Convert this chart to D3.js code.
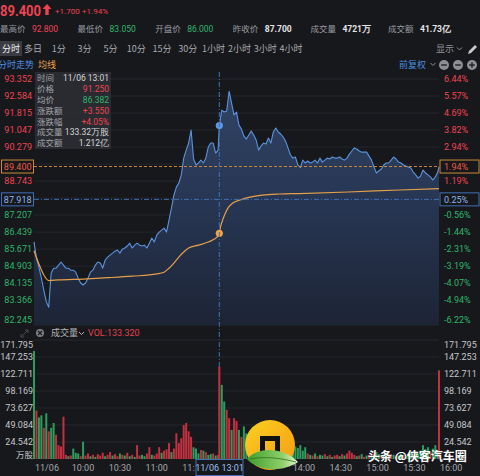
<!DOCTYPE html>
<html><head><meta charset="utf-8">
<script src="https://cdn.jsdelivr.net/npm/d3@7/dist/d3.min.js"></script>
<style>html,body{margin:0;padding:0;background:#17181c;overflow:hidden}svg{display:block}</style>
</head><body><svg id="chart" width="480" height="476"></svg>
<script>
// ---------------- data ----------------
const prevClose = 87.700;
const lastPrice = 89.400;
const changeAbs = "+1.700";
const changePct = "+1.94%";
const statLabels = ["最高价","最低价","开盘价","昨收价","成交量","成交额"];
const statValues = ["92.800","83.050","86.000","87.700","4721万","41.73亿"];
const tabs = ["分时","多日","1分","3分","5分","10分","15分","30分","1小时","2小时","3小时","4小时"];

// grid levels; labels that are hidden behind the tag boxes are null
const priceTicks = [93.352,92.584,91.815,91.047,90.279,89.511,88.743,87.975,87.207,86.439,85.671,84.903,84.135,83.366,82.245];
const priceTickLabels = ["93.352","92.584","91.815","91.047","90.279",null,"88.743",null,"87.207","86.439","85.671","84.903","84.135","83.366","82.245"];
const pctTicks = ["6.44%","5.57%","4.69%","3.82%","2.94%",null,"1.19%",null,"-0.56%","-1.44%","-2.31%","-3.19%","-4.07%","-4.94%","-6.22%"];
const volTicks = [171.795,147.253,122.711,98.169,73.627,49.084,24.542];
const timeLabels = ["11/06","10:00","10:30","11:00","11:30","14:00","14:30","15:00","15:30","16:00"];
const timeMinutes = [0,30,60,90,120,210,240,270,300,330]; // minutes since 09:30 (lunch removed)

// minute grids: morning every 2 min, afternoon from 13:01 every 2 min + 16:00
const amMinutes = d3.range(0, 151, 2);
const pmMinutes = d3.range(151, 330, 2).concat([330]);

const priceAM = [
 86.00,85.27,84.86,84.36,83.82,83.30,83.05,84.59,84.81,84.81,
 84.95,85.09,84.95,84.81,84.81,84.72,84.72,84.63,84.36,84.14,
 84.05,84.14,84.36,84.63,84.72,84.95,85.09,85.04,84.81,85.18,
 85.31,85.40,85.49,85.58,85.63,85.49,85.67,85.72,85.81,85.94,
 85.72,85.85,85.94,85.85,85.81,85.85,85.72,85.94,86.17,85.99,
 86.30,86.44,86.53,86.62,86.44,86.98,87.52,88.11,88.47,88.65,
 89.02,89.78,90.14,90.46,91.05,89.75,89.47,89.56,89.69,89.56,
 89.78,90.28,90.46,90.46,90.01,90.14];
const pricePM = [
 91.25,91.95,91.86,91.91,92.80,92.25,91.73,91.86,91.27,91.09,
 90.78,90.64,90.82,91.00,90.82,90.60,90.14,90.33,90.46,90.42,
 90.69,90.46,90.96,91.14,90.96,90.87,90.73,90.55,90.23,89.92,
 89.78,89.83,89.47,89.35,89.69,89.56,89.65,89.56,89.60,89.69,
 89.56,89.78,89.60,89.69,89.78,89.74,89.83,89.78,89.78,89.83,
 89.74,89.69,89.78,89.96,90.10,90.24,90.19,90.10,90.05,90.05,
 90.05,89.87,89.69,89.38,89.11,89.20,89.29,89.47,89.56,89.56,
 89.69,89.83,89.74,89.60,89.56,89.47,89.42,89.38,89.33,89.15,
 89.02,88.88,88.97,89.24,89.11,89.02,88.93,88.79,88.93,89.15,
 89.40];

const avgMinutes = [0,4,8,12,20,40,60,80,100,106,110,114,118,122,126,134,142,150,151,152,154,156,158,162,168,176,186,200,216,256,298,330];
const avgValues  = [85.60,85.00,84.50,84.25,84.28,84.32,84.38,84.45,84.55,84.63,84.81,85.04,85.31,85.54,85.72,85.85,85.99,86.26,86.382,86.67,87.03,87.30,87.52,87.75,87.89,88.02,88.11,88.16,88.18,88.25,88.34,88.40];

// volume (万股) and direction (r = up, g = down)
const volAM = [
 156,70,60,63,45,66,40,45,52,35,
 20,18,61,6,4,5,15,9,8,4,
 25,5,8,4,6,3,7,5,9,4,
 6,10,5,7,4,8,6,5,9,4,
 6,3,20,5,6,4,8,17,6,5,
 8,17,9,12,14,23,10,15,37,23,
 30,49,52,40,32,17,15,8,13,12,
 10,6,7,8,5,6];
const dirAM = "grggrgrggr"+"rrrrgrgggr"+"grrgrgrrrg"+"rrgrrgrgrg"+"rgrrggrrgr"+"rrgrrrgrrr"+"rrrrrgggrg"+"rggrgr";
const volPM = [
 133.32,107,83,71,59,42,59,55,42,32,
 47,37,28,23,15,12,18,10,25,12,
 9,14,22,18,10,8,12,7,9,6,
 14,18,16,20,12,17,8,6,5,8,
 4,6,5,7,4,6,3,5,6,4,
 7,5,8,12,9,6,4,5,7,3,
 5,6,4,8,10,7,5,6,4,5,
 7,6,4,5,8,6,5,7,9,6,
 10,8,12,20,14,17,11,15,20,13,
 128];
const dirPM = "rggrrgrrgr"+"ggrgrgrrrg"+"grrrggrggr"+"ggggggrgrg"+"rggrgrgrrg"+"rgrrrrgrgr"+"grgrggrgrg"+"rgrggrgggr"+"ggggggrggg"+"r";

// crosshair / tooltip
const crossMinute = 151;
const crossPrice = 91.25;
const crossAvg = 86.382;
const crossTime = "11/06 13:01";
const tipLabels = ["时间","价格","均价","涨跌额","涨跌幅","成交量","成交额"];
const tipValues = ["11/06 13:01","91.250","86.382","+3.550","+4.05%","133.32万股","1.212亿"];
const hLinePrice = 87.918;
const hLinePct = "0.25%";
const volHeader = "VOL:133.320";

// ---------------- drawing ----------------
const NUM = "Roboto, 'Noto Sans', sans-serif";
const CJK = "'Noto Sans CJK SC', 'Noto Sans', sans-serif";
const RED = "#ee4452", GREEN = "#2fb56b", WHITE = "#e4e4e6", GREY = "#9a9ba0",
      BLUE = "#4a8ee0", ORANGE = "#e9a145", BG = "#17181c";

const svg = d3.select("#chart");
const defs = svg.append("defs");
const x = d3.scaleLinear().domain([0, 330]).range([34, 439]);
const y = d3.scaleLinear().domain([82.245, 93.352]).range([325, 79]);
const yv = d3.scaleLinear().domain([0, 171.795]).range([459, 340]);

svg.append("rect").attr("width", 480).attr("height", 476).attr("fill", BG);

// header row 1
svg.append("text").attr("x", 0).attr("y", 16).attr("font-family", NUM).attr("font-weight", "bold")
  .attr("font-size", 15).attr("fill", RED).attr("textLength", 41).attr("lengthAdjust", "spacingAndGlyphs")
  .text(lastPrice.toFixed(3));
svg.append("path").attr("d", "M47,4 L51.5,9 L48.7,9 L48.7,15 L45.3,15 L45.3,9 L42.5,9 Z").attr("fill", RED);
svg.append("text").attr("x", 55).attr("y", 13.5).attr("font-family", NUM).attr("font-size", 8).attr("fill", RED).text(changeAbs);
svg.append("text").attr("x", 82).attr("y", 13.5).attr("font-family", NUM).attr("font-size", 8).attr("fill", RED).text(changePct);

// header row 2 (stats)
const statColors = [RED, GREEN, GREEN, WHITE, WHITE, WHITE];
statLabels.forEach((l, i) => {
  const x0 = i * 77.6;
  svg.append("text").attr("x", x0).attr("y", 32).attr("font-family", CJK).attr("font-size", 8.5).attr("fill", GREY).text(l);
  svg.append("text").attr("x", x0 + 32).attr("y", 32).attr("font-family", NUM).attr("font-size", 8.5)
    .attr("font-weight", i >= 3 ? "bold" : "normal").attr("fill", statColors[i]).text(statValues[i]);
});

// header row 3 (tabs)
svg.append("rect").attr("x", 0).attr("y", 41).attr("width", 22).attr("height", 15).attr("fill", "#3a3c42");
svg.append("text").attr("x", 11).attr("y", 52).attr("text-anchor", "middle").attr("font-family", CJK)
  .attr("font-size", 9).attr("fill", "#f0f0f0").text(tabs[0]);
const tabX = d3.scalePoint().domain(tabs.slice(1)).range([33, 291]);
tabs.slice(1).forEach(t => {
  svg.append("text").attr("x", tabX(t)).attr("y", 52).attr("text-anchor", "middle").attr("font-family", CJK)
    .attr("font-size", 9).attr("fill", "#a9aaaf").text(t);
});
svg.append("text").attr("x", 436).attr("y", 52).attr("font-family", CJK).attr("font-size", 9).attr("fill", "#8e8f94").text("显示");
svg.append("path").attr("d", "M457,47.5 L459.5,50 L462,47.5").attr("fill", "none").attr("stroke", "#8e8f94").attr("stroke-width", 1);
svg.append("path").attr("d", "M468,54 L469,51 L475,45 L477,47 L471,53 Z").attr("fill", "#c9cace");

// header row 4
svg.append("text").attr("x", -2).attr("y", 68).attr("font-family", CJK).attr("font-size", 9).attr("fill", BLUE).text("分时走势");
svg.append("text").attr("x", 38).attr("y", 68).attr("font-family", CJK).attr("font-size", 9).attr("fill", ORANGE).text("均线");
svg.append("text").attr("x", 399).attr("y", 68).attr("font-family", CJK).attr("font-size", 9).attr("fill", BLUE).text("前复权");
svg.append("path").attr("d", "M430.5,63 L433,65.5 L435.5,63").attr("fill", "none").attr("stroke", "#8e8f94").attr("stroke-width", 1);
[444, 458, 472].forEach((cx, i) => {
  svg.append("circle").attr("cx", cx).attr("cy", 65).attr("r", 5).attr("fill", "#8e8f94");
  svg.append("line").attr("x1", cx - 2.8).attr("x2", cx + 2.8).attr("y1", 65).attr("y2", 65).attr("stroke", BG).attr("stroke-width", 1.3);
  if (i === 2) svg.append("line").attr("x1", cx).attr("x2", cx).attr("y1", 62.2).attr("y2", 67.8).attr("stroke", BG).attr("stroke-width", 1.3);
});

// ---------- price pane ----------
const gPrice = svg.append("g");
priceTicks.forEach(t => {
  gPrice.append("line").attr("x1", 34).attr("x2", 439).attr("y1", y(t)).attr("y2", y(t))
    .attr("stroke", "#24262c").attr("stroke-width", 1);
});

const pricePts = amMinutes.map((m, i) => ({ m, p: priceAM[i] }))
  .concat(pmMinutes.map((m, i) => ({ m, p: pricePM[i] })));
const avgPts = avgMinutes.map((m, i) => ({ m, p: avgValues[i] }));

const grad = defs.append("linearGradient").attr("id", "fillGrad").attr("gradientUnits", "userSpaceOnUse")
  .attr("x1", 0).attr("x2", 0).attr("y1", 85).attr("y2", 325);
grad.append("stop").attr("offset", "0%").attr("stop-color", "#314466");
grad.append("stop").attr("offset", "55%").attr("stop-color", "#263450");
grad.append("stop").attr("offset", "100%").attr("stop-color", "#1d2435");

gPrice.append("path").datum(pricePts)
  .attr("d", d3.area().x(d => x(d.m)).y0(325).y1(d => y(d.p)))
  .attr("fill", "url(#fillGrad)");
gPrice.append("path").datum(pricePts)
  .attr("d", d3.line().x(d => x(d.m)).y(d => y(d.p)))
  .attr("fill", "none").attr("stroke", "#5b93dd").attr("stroke-width", 1.1).attr("stroke-linejoin", "round");
gPrice.append("path").datum(avgPts)
  .attr("d", d3.line().curve(d3.curveMonotoneX).x(d => x(d.m)).y(d => y(d.p)))
  .attr("fill", "none").attr("stroke", "#e3a049").attr("stroke-width", 1.2);

// reference lines
gPrice.append("line").attr("x1", 34).attr("x2", 439).attr("y1", y(lastPrice)).attr("y2", y(lastPrice))
  .attr("stroke", "#c98a35").attr("stroke-width", 1).attr("stroke-dasharray", "3,2");
gPrice.append("line").attr("x1", 34).attr("x2", 439).attr("y1", y(hLinePrice)).attr("y2", y(hLinePrice))
  .attr("stroke", "#3f70b8").attr("stroke-width", 1).attr("stroke-dasharray", "5,2,1,2");
// crosshair vertical
svg.append("line").attr("x1", x(crossMinute)).attr("x2", x(crossMinute)).attr("y1", 72).attr("y2", 459)
  .attr("stroke", "#3f70b8").attr("stroke-width", 1).attr("stroke-dasharray", "5,2,1,2");
gPrice.append("circle").attr("cx", x(crossMinute)).attr("cy", y(crossPrice)).attr("r", 3.6).attr("fill", "#5b9ae6");
gPrice.append("circle").attr("cx", x(crossMinute)).attr("cy", y(crossAvg)).attr("r", 3.6).attr("fill", "#f0a43d");

// axis labels
priceTicks.forEach((t, i) => {
  let yy = y(t);
  if (i === priceTicks.length - 1) yy -= 5;
  const col = t >= prevClose ? RED : GREEN;
  if (priceTickLabels[i]) gPrice.append("text").attr("x", 32).attr("y", yy).attr("dy", "0.35em").attr("text-anchor", "end")
    .attr("font-family", NUM).attr("font-size", 9).attr("fill", col).text(priceTickLabels[i]);
  if (pctTicks[i]) gPrice.append("text").attr("x", 444).attr("y", yy).attr("dy", "0.35em").attr("text-anchor", "start")
    .attr("font-family", NUM).attr("font-size", 9).attr("fill", col).text(pctTicks[i]);
});
function tagBox(xl, w, yc, stroke, txtCol, txt, anchor) {
  gPrice.append("rect").attr("x", xl).attr("y", yc - 6.5).attr("width", w).attr("height", 13)
    .attr("fill", BG).attr("stroke", stroke).attr("stroke-width", 1);
  gPrice.append("text").attr("x", anchor === "end" ? xl + w - 2 : xl + 4).attr("y", yc).attr("dy", "0.35em")
    .attr("text-anchor", anchor).attr("font-family", NUM).attr("font-size", 9).attr("fill", txtCol).text(txt);
}
tagBox(1.5, 32, y(lastPrice), "#c98a35", "#ec5a45", lastPrice.toFixed(3), "end");
tagBox(440, 39, y(lastPrice), "#c98a35", "#ec5a45", changePct.replace("+", ""), "start");
tagBox(1.5, 32, y(hLinePrice), "#3f70b8", "#8fb6ea", hLinePrice.toFixed(3), "end");
tagBox(440, 39, y(hLinePrice), "#3f70b8", "#8fb6ea", hLinePct, "start");

// tooltip
const tip = svg.append("g");
tip.append("rect").attr("x", 35).attr("y", 72).attr("width", 76).attr("height", 77)
  .attr("fill", "#2b2d33").attr("opacity", 0.93);
const tipColors = ["#d6d6d8", RED, GREEN, RED, RED, "#d6d6d8", "#d6d6d8"];
tipLabels.forEach((l, i) => {
  const yy = 78.5 + i * 10.8;
  tip.append("text").attr("x", 37).attr("y", yy).attr("dy", "0.35em").attr("font-family", CJK)
    .attr("font-size", 8.5).attr("fill", "#a3a4a8").text(l);
  tip.append("text").attr("x", 109).attr("y", yy).attr("dy", "0.35em").attr("text-anchor", "end")
    .attr("font-family", NUM).attr("font-size", 8.5).attr("fill", tipColors[i]).text(tipValues[i]);
});

// ---------- volume pane ----------
const gVol = svg.append("g");
gVol.append("path").attr("d", "M21,337 L28,330 M21,337 L21,334 M21,337 L24,337 M28,330 L25,330 M28,330 L28,333")
  .attr("stroke", "#4a4b50").attr("stroke-width", 1).attr("fill", "none");
gVol.append("circle").attr("cx", 40).attr("cy", 333).attr("r", 4).attr("fill", "#7d7e83");
gVol.append("path").attr("d", "M38,331 L42,335 M42,331 L38,335").attr("stroke", BG).attr("stroke-width", 1.1);
gVol.append("text").attr("x", 51).attr("y", 333).attr("dy", "0.35em").attr("font-family", CJK).attr("font-size", 9)
  .attr("fill", "#b3b4b8").text("成交量");
gVol.append("path").attr("d", "M79,332 L81.5,334.5 L84,332").attr("fill", "none").attr("stroke", "#b3b4b8").attr("stroke-width", 1);
gVol.append("text").attr("x", 88).attr("y", 333).attr("dy", "0.35em").attr("font-family", NUM).attr("font-size", 9)
  .attr("fill", "#e2434f").text(volHeader);

volTicks.forEach(t => {
  gVol.append("line").attr("x1", 34).attr("x2", 439).attr("y1", yv(t)).attr("y2", yv(t))
    .attr("stroke", "#24262c").attr("stroke-width", 1);
});

const volPts = amMinutes.map((m, i) => ({ m, v: volAM[i], d: dirAM[i] }))
  .concat(pmMinutes.map((m, i) => ({ m, v: volPM[i], d: dirPM[i] })));
gVol.selectAll("rect.bar").data(volPts).enter().append("rect").attr("class", "bar")
  .attr("x", d => x(d.m) - 1).attr("width", 2)
  .attr("y", d => yv(d.v)).attr("height", d => yv(0) - yv(d.v))
  .attr("fill", d => d.d === "r" ? "#c3313f" : "#2b9d5d");

volTicks.forEach(t => {
  let yy = yv(t);
  if (yy < 343) yy += 5;
  gVol.append("text").attr("x", 33).attr("y", yy).attr("dy", "0.35em").attr("text-anchor", "end")
    .attr("font-family", NUM).attr("font-size", 9).attr("fill", "#c6c7cb").text(t.toFixed(3));
  gVol.append("text").attr("x", 444).attr("y", yy).attr("dy", "0.35em")
    .attr("font-family", NUM).attr("font-size", 9).attr("fill", "#c6c7cb").text(t.toFixed(3));
});
gVol.append("text").attr("x", 33).attr("y", 455).attr("dy", "0.35em").attr("text-anchor", "end")
  .attr("font-family", CJK).attr("font-size", 8.5).attr("fill", "#c6c7cb").text("万股");

// time axis
const clip = defs.append("clipPath").attr("id", "axisClip");
clip.append("rect").attr("x", 0).attr("y", 459).attr("width", 195).attr("height", 17);
timeLabels.forEach((t, i) => {
  gVol.append("text").attr("x", x(timeMinutes[i]) + 1).attr("y", 468).attr("dy", "0.35em")
    .attr("clip-path", timeMinutes[i] === 120 ? "url(#axisClip)" : null)
    .attr("font-family", NUM).attr("font-size", 9).attr("fill", "#a5a6aa").text(t);
});
gVol.append("rect").attr("x", 196).attr("y", 459.5).attr("width", 47).attr("height", 16)
  .attr("fill", BG).attr("stroke", "#3f70b8").attr("stroke-width", 1);
gVol.append("text").attr("x", 219.5).attr("y", 468).attr("dy", "0.35em").attr("text-anchor", "middle")
  .attr("font-family", NUM).attr("font-size", 9).attr("fill", "#9cc0ee").text(crossTime);

// ---------- watermark ----------
const wm = svg.append("g");
const lg = defs.append("linearGradient").attr("id", "logoGrad").attr("x1", 0).attr("x2", 1).attr("y1", 0).attr("y2", 1);
lg.append("stop").attr("offset", "0%").attr("stop-color", "#fbd020");
lg.append("stop").attr("offset", "100%").attr("stop-color", "#f59a14");
wm.append("circle").attr("cx", 270).attr("cy", 445).attr("r", 25).attr("fill", "url(#logoGrad)");
wm.append("path").attr("d", "M260,452 L260,436 L280,436 L280,452 L275,452 L275,441 L265,441 L265,452 Z").attr("fill", "#111");
const leaf = defs.append("linearGradient").attr("id", "leafGrad").attr("x1", 0).attr("x2", 1).attr("y1", 0).attr("y2", 0);
leaf.append("stop").attr("offset", "0%").attr("stop-color", "#3f9d2e");
leaf.append("stop").attr("offset", "70%").attr("stop-color", "#8fd06a");
leaf.append("stop").attr("offset", "100%").attr("stop-color", "#e8f6d8");
wm.append("path").attr("d", "M247,459 C258,446 284,447 298,462 C284,472 258,472 247,459 Z").attr("fill", "url(#leafGrad)");
wm.append("path").attr("d", "M250,459 C264,456 280,458 296,462").attr("fill", "none").attr("stroke", "#2c6e1f").attr("stroke-width", 0.8);
wm.append("text").attr("x", 368).attr("y", 461).attr("font-family", CJK).attr("font-size", 12)
  .attr("fill", "#ffffff").attr("font-weight", "bold").text("头条 @侠客汽车圈");
</script></body></html>
